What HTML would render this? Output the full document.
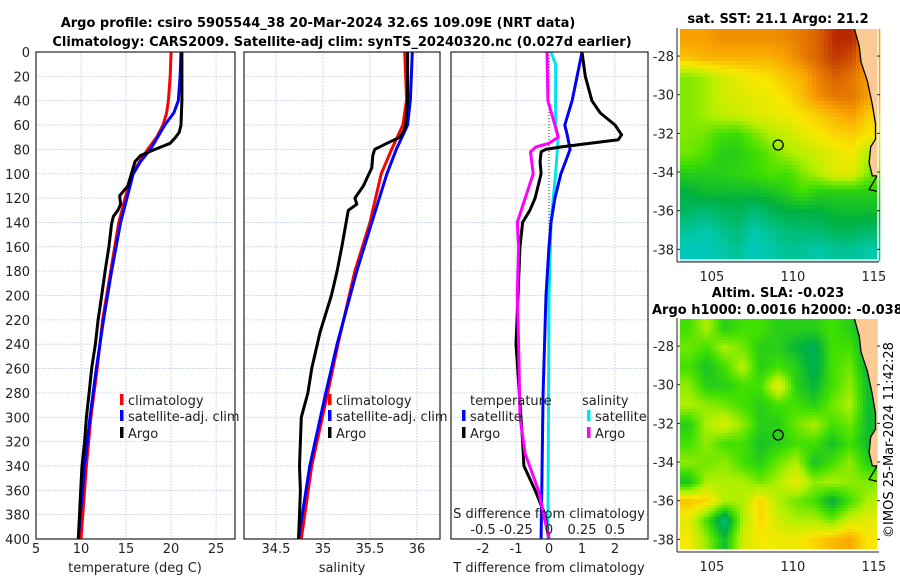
<!DOCTYPE html>
<html><head><meta charset="utf-8"><style>
body{margin:0;background:#fff}
svg{display:block;font-family:"DejaVu Sans","Liberation Sans",sans-serif}
</style></head><body>
<svg id="fig" width="900" height="580" viewBox="0 0 900 580">
<text x="318" y="27" text-anchor="middle" font-weight="bold" font-size="13">Argo profile: csiro 5905544_38 20-Mar-2024 32.6S 109.09E (NRT data)</text>
<text x="342" y="46" text-anchor="middle" font-weight="bold" font-size="13">Climatology: CARS2009. Satellite-adj clim: synTS_20240320.nc (0.027d earlier)</text>
<text x="778" y="23" text-anchor="middle" font-weight="bold" font-size="13">sat. SST: 21.1 Argo: 21.2</text>
<text x="778" y="297" text-anchor="middle" font-weight="bold" font-size="13">Altim. SLA: -0.023</text>
<text x="652" y="314" font-weight="bold" font-size="13">Argo h1000: 0.0016 h2000: -0.038</text>
<text transform="translate(893,440) rotate(-90)" text-anchor="middle" font-size="13">©IMOS 25-Mar-2024 11:42:28</text>
<g id="g"></g>
</svg>
<script>
// ---- data ----
const depthTicks=[0,20,40,60,80,100,120,140,160,180,200,220,240,260,280,300,320,340,360,380,400];
const tempTicks=[5,10,15,20,25];
const salTicks=[34.5,35,35.5,36];
const dTTicks=[-2,-1,0,1,2];
const dSTicks=[-0.5,-0.25,0,0.25,0.5];
const dSTickLabels=["-0.5","-0.25","0","0.25","0.5"];
const tClimD=[0,20,40,50,60,70,80,90,100,120,140,180,220,260,300,340,400];
const tClimV=[20.0,19.9,19.7,19.5,19.1,18.4,17.4,16.5,15.7,14.9,14.2,13.3,12.4,11.8,11.1,10.6,10.0];
const tSatD=[0,20,40,50,60,70,80,90,100,120,140,180,220,260,300,340,400];
const tSatV=[21.1,21.0,20.8,20.3,19.3,18.5,17.7,16.6,15.8,15.1,14.4,13.4,12.5,11.7,11.0,10.4,9.7];
const tArgoD=[0,40,60,66,70,75,80,85,90,100,110,118,125,130,135,141,160,179,200,220,240,259,280,300,320,341,370,400];
const tArgoV=[21.2,21.2,21.1,20.9,20.5,19.9,18.2,16.6,16.0,15.6,15.2,14.3,14.4,14.1,13.6,13.4,13.1,12.7,12.3,11.9,11.6,11.2,10.9,10.6,10.4,10.1,9.9,9.7];
const sClimD=[0,39,60,80,100,140,180,240,280,340,400];
const sClimV=[35.87,35.89,35.85,35.73,35.62,35.50,35.34,35.16,35.05,34.88,34.77];
const sSatD=[0,39,60,80,100,140,180,240,280,340,400];
const sSatV=[35.95,35.93,35.90,35.78,35.68,35.52,35.36,35.15,35.03,34.86,34.74];
const sArgoD=[0,39,60,65,70,75,80,85,95,100,110,120,125,130,160,180,200,230,260,280,300,320,340,360,380,400];
const sArgoV=[35.90,35.90,35.88,35.86,35.82,35.68,35.55,35.53,35.52,35.49,35.43,35.34,35.36,35.27,35.20,35.15,35.09,34.97,34.88,34.84,34.77,34.76,34.75,34.76,34.75,34.74];
const dTSatD=[0,20,40,60,68,80,90,100,120,140,160,200,280,400];
const dTSatV=[1.0,0.85,0.7,0.48,0.55,0.64,0.5,0.36,0.18,0.06,0.0,-0.09,-0.18,-0.24];
const dTArgoD=[0,20,40,50,60,68,72,75,78,80,82,90,100,120,130,140,160,200,240,300,320,340,360,380,400];
const dTArgoV=[1.0,1.1,1.3,1.55,2.0,2.2,2.1,1.25,0.35,-0.1,-0.24,-0.27,-0.24,-0.42,-0.58,-0.8,-0.88,-0.94,-1.0,-0.85,-0.8,-0.76,-0.42,-0.12,0.0];
const dSSatD=[0,10,60,70,100,140,200,400];
const dSSatV=[0.015,0.05,0.05,0.07,0.05,0.015,0.0,-0.008];
const dSArgoD=[0,40,60,70,75,78,82,100,120,140,160,200,240,300,330,360,400];
const dSArgoV=[-0.015,-0.008,0.045,0.07,0.0,-0.1,-0.14,-0.12,-0.18,-0.24,-0.23,-0.24,-0.23,-0.22,-0.18,-0.08,0.0];
const lonTicks=[105,110,115];
const latTicks=[-28,-30,-32,-34,-36,-38];
const argoLon=109.09, argoLat=-32.6;
const coastLon=[113.8,114.1,114.2,114.6,114.9,115.1,115.1,114.8,114.7,114.9,115.2];
const coastLat=[-26.6,-27.5,-28.3,-29.3,-30.5,-31.5,-32.3,-32.7,-33.5,-34.2,-34.2];
const sstGrid=[
[0.80,0.80,0.82,0.82,0.82,0.82,0.83,0.85,0.88,0.95,0.95,-1],
[0.76,0.78,0.78,0.78,0.78,0.78,0.80,0.84,0.88,0.93,0.90,-1],
[0.62,0.64,0.68,0.70,0.72,0.73,0.76,0.78,0.84,0.88,0.85,-1],
[0.62,0.64,0.68,0.69,0.70,0.71,0.73,0.77,0.82,0.85,0.85,0.80],
[0.62,0.64,0.66,0.67,0.69,0.70,0.71,0.73,0.75,0.78,0.80,0.75],
[0.62,0.61,0.58,0.57,0.61,0.65,0.67,0.70,0.72,0.74,0.75,0.72],
[0.61,0.59,0.55,0.55,0.57,0.60,0.64,0.66,0.68,0.70,0.72,0.65],
[0.55,0.55,0.55,0.56,0.57,0.59,0.58,0.62,0.66,0.70,0.70,0.62],
[0.50,0.52,0.52,0.52,0.52,0.53,0.55,0.58,0.55,0.55,0.55,0.55],
[0.47,0.45,0.47,0.48,0.45,0.48,0.50,0.50,0.50,0.52,0.52,0.52],
[0.42,0.40,0.42,0.45,0.40,0.42,0.45,0.45,0.46,0.48,0.48,0.46],
[0.38,0.38,0.40,0.42,0.38,0.40,0.42,0.42,0.40,0.42,0.42,0.40]];
const slaGrid=[
[0.58,0.65,0.55,0.58,0.58,0.55,0.55,0.55,0.58,0.55,0.50],
[0.61,0.58,0.65,0.61,0.55,0.55,0.51,0.48,0.58,0.58,0.50],
[0.58,0.53,0.58,0.66,0.55,0.58,0.55,0.48,0.58,0.61,0.50],
[0.63,0.55,0.55,0.58,0.58,0.71,0.55,0.51,0.58,0.63,0.52],
[0.65,0.63,0.61,0.58,0.55,0.58,0.58,0.55,0.61,0.65,0.52],
[0.55,0.65,0.69,0.63,0.55,0.55,0.61,0.65,0.58,0.61,0.52],
[0.58,0.63,0.58,0.58,0.53,0.55,0.58,0.58,0.53,0.58,0.52],
[0.63,0.61,0.63,0.58,0.55,0.61,0.65,0.53,0.58,0.63,0.55],
[0.53,0.65,0.65,0.65,0.61,0.65,0.71,0.63,0.65,0.63,0.62],
[0.76,0.74,0.65,0.65,0.74,0.65,0.61,0.58,0.50,0.58,0.65],
[0.70,0.58,0.44,0.65,0.74,0.68,0.65,0.65,0.61,0.68,0.70],
[0.72,0.63,0.52,0.68,0.72,0.71,0.71,0.74,0.77,0.79,0.72]];

// ---- drawing ----
const NS='http://www.w3.org/2000/svg';
const G=document.getElementById('g');
function el(tag,attrs,parent){const e=document.createElementNS(NS,tag);for(const k in attrs)e.setAttribute(k,attrs[k]);(parent||G).appendChild(e);return e;}
function txt(x,y,s,size,anchor,parent){const t=el('text',{x:x,y:y,'font-size':size||13,'text-anchor':anchor||'middle',fill:'#222'},parent);t.textContent=s;return t;}
const top0=52,bot0=539;
const yD=d=>top0+d*(bot0-top0)/400;
function panel(x0,x1,xmin,xmax,name){
  const p=el('g',{});
  
  
  const sx=v=>x0+(v-xmin)*(x1-x0)/(xmax-xmin);
  return {g:p,sx:sx,x0:x0,x1:x1};
}
function grid(P,xt){
  depthTicks.forEach(d=>{const l=el('line',{x1:P.x0,x2:P.x1,y1:yD(d),y2:yD(d),stroke:'#b8c4dc','stroke-width':0.8,'stroke-dasharray':'1.5,1.5'},P.g);
    
    });
  xt.forEach(v=>{const l=el('line',{x1:P.sx(v),x2:P.sx(v),y1:top0,y2:bot0,stroke:'#b8c4dc','stroke-width':0.8,'stroke-dasharray':'1.5,1.5'},P.g);
    
    });
}
function frame(P){const r=el('rect',{x:P.x0,y:top0,width:P.x1-P.x0,height:bot0-top0,fill:'none',stroke:'#222','stroke-width':1.2},P.g);
  
  }
function line(P,D,V,sx,col,name,w){
  const pts=D.map((d,i)=>sx(V[i]).toFixed(1)+','+yD(d).toFixed(1)).join(' ');
  const pl=el('polyline',{points:pts,fill:'none',stroke:col,'stroke-width':w||3,'stroke-linejoin':'round'},P.g);
  
  
}
function xticks(P,ticks,labels,y){
  ticks.forEach((v,i)=>{const t=txt(P.sx(v),y,labels?labels[i]:String(v),13,'middle',P.g);
    
    });
}
function legItem(P,x,y,col,label){
  const r=el('rect',{x:x,y:y-11,width:3.5,height:11,fill:col},P.g);
  
  
  const t=txt(x+8,y,label,13,'start',P.g);
  
  
}
// panel 1
const P1=panel(36,235,5,27.1,'temperature-panel');
grid(P1,tempTicks);
line(P1,tClimD,tClimV,P1.sx,'#ff0000','temp-climatology-line');
line(P1,tSatD,tSatV,P1.sx,'#0000ff','temp-satellite-line');
line(P1,tArgoD,tArgoV,P1.sx,'#000','temp-argo-line');
frame(P1);
depthTicks.forEach(d=>{const t=txt(30,yD(d)+5,String(d),13,'end',P1.g);
  
  });
xticks(P1,tempTicks,null,553);
{const t=txt(135,572,'temperature (deg C)',13,'middle',P1.g);}
legItem(P1,120,405,'#ff0000','climatology');
legItem(P1,120,421,'#0000ff','satellite-adj. clim');
legItem(P1,120,438,'#000','Argo');
// panel 2
const P2=panel(244,440,34.16,36.245,'salinity-panel');
grid(P2,salTicks);
line(P2,sClimD,sClimV,P2.sx,'#ff0000','sal-climatology-line');
line(P2,sSatD,sSatV,P2.sx,'#0000ff','sal-satellite-line');
line(P2,sArgoD,sArgoV,P2.sx,'#000','sal-argo-line');
frame(P2);
xticks(P2,salTicks,null,553);
{const t=txt(342,572,'salinity',13,'middle',P2.g);}
legItem(P2,328,405,'#ff0000','climatology');
legItem(P2,328,421,'#0000ff','satellite-adj. clim');
legItem(P2,328,438,'#000','Argo');
// panel 3
const P3=panel(451,648,-2.97,3.0,'difference-panel');
const sxS=v=>P3.sx(v*4);
grid(P3,dTTicks);
{const l=el('line',{x1:P3.sx(0),x2:P3.sx(0),y1:top0,y2:bot0,stroke:'#333','stroke-width':1,'stroke-dasharray':'1,2'},P3.g);}
line(P3,dSSatD,dSSatV,sxS,'#00e5ee','sal-diff-satellite-line');
line(P3,dTSatD,dTSatV,P3.sx,'#0000ff','temp-diff-satellite-line');
line(P3,dTArgoD,dTArgoV,P3.sx,'#000','temp-diff-argo-line');
line(P3,dSArgoD,dSArgoV,sxS,'#ff00ff','sal-diff-argo-line');
frame(P3);
xticks(P3,dTTicks,null,553);
dSTicks.forEach((v,i)=>{const t=txt(sxS(v),534,dSTickLabels[i],13,'middle',P3.g);});
{const t=txt(549,518,'S difference from climatology',13,'middle',P3.g);}
{const t=txt(549,572,'T difference from climatology',13,'middle',P3.g);}
{const t=txt(470,405,'temperature',13,'start',P3.g);}
{const t=txt(582,405,'salinity',13,'start',P3.g);}
legItem(P3,462,421,'#0000ff','satellite');
legItem(P3,462,438,'#000','Argo');
legItem(P3,587,421,'#00e5ee','satellite');
legItem(P3,587,438,'#ff00ff','Argo');

// ---- maps ----
const cmapS=[0,0.3,0.4,0.5,0.58,0.65,0.72,0.8,0.88,1.0];
const cmapC=[[0,0,143],[0,200,255],[0,200,170],[0,176,64],[64,224,0],[176,240,0],[248,232,0],[248,160,0],[216,96,0],[160,0,0]];
function cmap(v){v=Math.max(0,Math.min(1,v));for(let i=1;i<cmapS.length;i++){if(v<=cmapS[i]){const f=(v-cmapS[i-1])/(cmapS[i]-cmapS[i-1]);const a=cmapC[i-1],b=cmapC[i];return 'rgb('+a.map((c,k)=>Math.round(c+(b[k]-c)*f)).join(',')+')';}}return 'rgb(160,0,0)';}
function mapPanel(y0,y1,gridV,name,step){
  const x0=680,x1=877,lon0=103.03,lon1=115.19,lat0=-26.6,lat1=-38.5;
  const m=el('g',{});
  
  
  const sx=l=>x0+(l-lon0)*(x1-x0)/(lon1-lon0);
  const sy=l=>y0+(l-lat0)*(y1-y0)/(lat1-lat0);
  const R=gridV.length,C=gridV[0].length;
  function val(fx,fy){
    const gx=Math.max(0,Math.min(C-1,fx*C-0.5)),gy=Math.max(0,Math.min(R-1,fy*R-0.5));
    const i0=Math.floor(gx),j0=Math.floor(gy),i1=Math.min(C-1,i0+1),j1=Math.min(R-1,j0+1);
    const tx=gx-i0,ty=gy-j0;
    const g=(j,i)=>{const v=gridV[j][i];return v<0?0.8:v;};
    return (g(j0,i0)*(1-tx)+g(j0,i1)*tx)*(1-ty)+(g(j1,i0)*(1-tx)+g(j1,i1)*tx)*ty;
  }
  for(let y=y0;y<y1;y+=step){for(let x=x0;x<x1;x+=step){
    const r=el('rect',{x:x,y:y,width:step+0.3,height:step+0.3,fill:cmap(val((x+step/2-x0)/(x1-x0),(y+step/2-y0)/(y1-y0)))},m);
    
    
  }}
  let pts=coastLon.map((l,i)=>sx(l).toFixed(1)+','+sy(coastLat[i]).toFixed(1));
  const land=el('polygon',{points:pts.join(' ')+' '+x1+','+sy(-34.2)+' '+x1+','+y0,fill:'#fbc993'},m);
  
  
  const cst=el('polyline',{points:pts.join(' ')+' '+sx(115.2)+','+sy(-34.2)+' '+sx(114.7)+','+sy(-34.9)+' '+x1+','+sy(-35),fill:'none',stroke:'#000','stroke-width':1.3},m);
  
  
  const c=el('circle',{cx:sx(argoLon),cy:sy(argoLat),r:5,fill:'none',stroke:'#000','stroke-width':1.3},m);
  
  
  const fr=el('rect',{x:x0-1,y:y0-1,width:x1-x0+2,height:y1-y0+2,fill:'none',stroke:'#fff','stroke-width':1.5},m);
  
  
  el('line',{x1:x0-3,x2:x1+2,y1:y1+3,y2:y1+3,stroke:'#222'},m);
  el('line',{x1:x0-3,x2:x0-3,y1:y0-1,y2:y1+3,stroke:'#222'},m);
  latTicks.forEach(l=>{const t=txt(x0-6,sy(l)+5,String(l),13,'end',m);
    el('line',{x1:x0-3,x2:x0,y1:sy(l),y2:sy(l),stroke:'#222'},m);el('line',{x1:x1,x2:x1+3,y1:sy(l),y2:sy(l),stroke:'#222'},m);});
  lonTicks.forEach(l=>{const t=txt(sx(l),y1+22,String(l),13,'middle',m);});
}
mapPanel(29,259,sstGrid,'sst-map',4);
mapPanel(319,549,slaGrid,'sla-map',3);
</script>
</body></html>
